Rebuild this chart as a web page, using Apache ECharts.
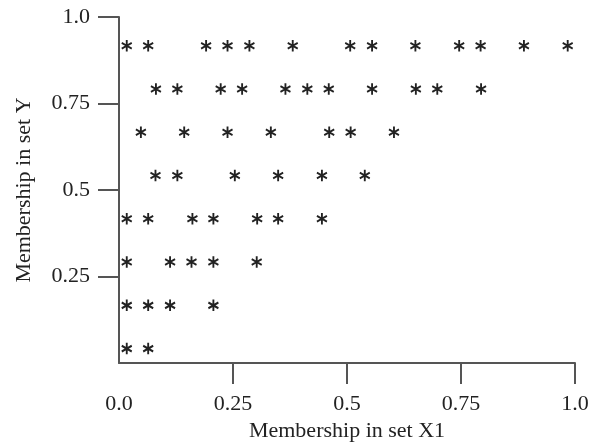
<!DOCTYPE html>
<html>
<head>
<meta charset="utf-8">
<script src="https://cdn.jsdelivr.net/npm/echarts@6/dist/echarts.min.js"></script>
<style>
html,body{margin:0;padding:0;background:#fff;}
#chart{width:598px;height:447px;}
</style>
</head>
<body>
<div id="chart"></div>
<script>
// Row membership values in set Y (one row of asterisks each)
var rowY = [0.917, 0.792, 0.667, 0.542, 0.417, 0.292, 0.167, 0.042];
// Membership in set X1 for each row
var row1X = [0.017, 0.064, 0.191, 0.238, 0.286, 0.381, 0.507, 0.555, 0.650, 0.746, 0.793, 0.888, 0.984];
var row2X = [0.081, 0.128, 0.223, 0.270, 0.365, 0.413, 0.460, 0.555, 0.651, 0.698, 0.794];
var row3X = [0.048, 0.143, 0.238, 0.333, 0.461, 0.508, 0.603];
var row4X = [0.080, 0.128, 0.254, 0.349, 0.445, 0.539];
var row5X = [0.017, 0.064, 0.161, 0.207, 0.303, 0.349, 0.445];
var row6X = [0.017, 0.112, 0.159, 0.207, 0.302];
var row7X = [0.017, 0.064, 0.112, 0.207];
var row8X = [0.017, 0.064];
var rowsX = [row1X, row2X, row3X, row4X, row5X, row6X, row7X, row8X];

// Tick values and labels
var xTickValues = [0, 0.25, 0.5, 0.75, 1.0];
var xTickLabels = ['0.0', '0.25', '0.5', '0.75', '1.0'];
var yTickValues = [0.25, 0.5, 0.75, 1.0];
var yTickLabels = ['0.25', '0.5', '0.75', '1.0'];
var xTitle = 'Membership in set X1';
var yTitle = 'Membership in set Y';

var points = [];
rowsX.forEach(function (xs, i) {
  xs.forEach(function (x) { points.push([x, rowY[i]]); });
});

function labelFor(values, labels) {
  return function (v) {
    for (var i = 0; i < values.length; i++) {
      if (Math.abs(values[i] - v) < 1e-9) return labels[i];
    }
    return '';
  };
}

var FONT = 'Liberation Serif';
var AXIS_COLOR = '#555';
var TEXT_COLOR = '#222';
var asterisk = 'path://M0,-10L0,10M-8.66,-5L8.66,5M-8.66,5L8.66,-5';

var chart = echarts.init(document.getElementById('chart'), null, {renderer: 'canvas'});
chart.setOption({
  animation: false,
  backgroundColor: '#fff',
  grid: {left: 119, top: 17, right: 23, bottom: 82, containLabel: false},
  xAxis: {
    type: 'value', min: 0, max: 1,
    name: xTitle, nameLocation: 'middle', nameGap: 54,
    nameTextStyle: {fontFamily: FONT, fontSize: 22, color: TEXT_COLOR},
    axisLine: {show: true, onZero: false, lineStyle: {color: AXIS_COLOR, width: 2}},
    axisTick: {show: true, length: 21, customValues: xTickValues.slice(1), lineStyle: {color: AXIS_COLOR, width: 2}},
    axisLabel: {customValues: xTickValues, formatter: labelFor(xTickValues, xTickLabels),
      fontFamily: FONT, fontSize: 22, color: TEXT_COLOR, margin: 30},
    splitLine: {show: false}
  },
  yAxis: {
    type: 'value', min: 0, max: 1,
    name: yTitle, nameLocation: 'middle', nameGap: 84,
    nameTextStyle: {fontFamily: FONT, fontSize: 22, color: TEXT_COLOR},
    axisLine: {show: true, onZero: false, lineStyle: {color: AXIS_COLOR, width: 2}},
    axisTick: {show: true, length: 21, customValues: yTickValues, lineStyle: {color: AXIS_COLOR, width: 2}},
    axisLabel: {customValues: yTickValues, formatter: labelFor(yTickValues, yTickLabels),
      fontFamily: FONT, fontSize: 22, color: TEXT_COLOR, margin: 29},
    splitLine: {show: false}
  },
  series: [{
    type: 'scatter',
    data: points,
    symbol: asterisk,
    symbolSize: [10, 11.5],
    itemStyle: {color: '#222', borderColor: '#222', borderWidth: 2, opacity: 1},
    emphasis: {disabled: true}
  }]
});
</script>
</body>
</html>
